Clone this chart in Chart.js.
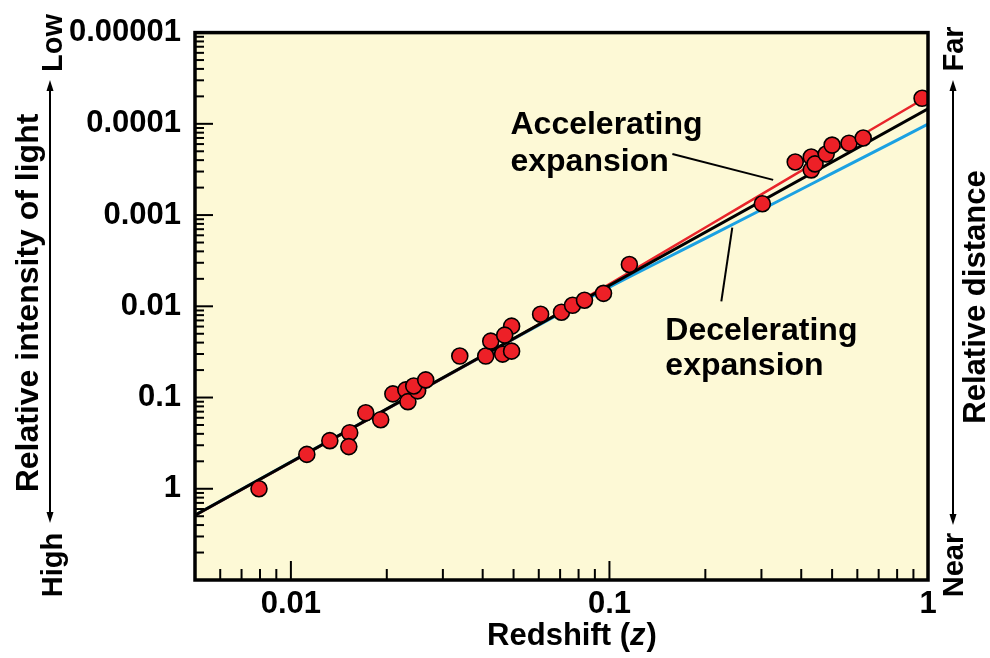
<!DOCTYPE html>
<html><head><meta charset="utf-8">
<script src="https://cdn.jsdelivr.net/npm/chart.js@4/dist/chart.umd.min.js"></script>
<style>html,body{margin:0;padding:0;background:#fff}#wrap{width:990px;height:658px;position:relative}</style>
</head><body><div id="wrap"><canvas id="c"></canvas></div>
<script>
// ---- data ----
const redshift  = [0.00794,0.01122,0.01325,0.0153,0.0152,0.01718,0.01914,0.0209,0.02295,0.0233,0.0250,0.0243,0.0265,0.0339,0.0409,0.0424,0.0462,0.0493,0.0493,0.0469,0.0608,0.0707,0.0766,0.0835,0.0958,0.1155,0.302,0.383,0.430,0.430,0.442,0.479,0.500,0.565,0.626,0.958];
const intensity = [1.0,0.42,0.297,0.243,0.345,0.147,0.175,0.0912,0.0824,0.111,0.0845,0.0747,0.0641,0.0351,0.0351,0.0241,0.0334,0.0310,0.0165,0.0207,0.01222,0.01161,0.00975,0.00859,0.00721,0.00348,0.000751,0.000262,0.000231,0.000320,0.000275,0.000214,0.000171,0.000163,0.000143,0.0000525];
const modelZ       = [0.005,0.05,0.1,0.2,0.3,0.5,1];
const accelerating = [1.954,0.02279,0.005723,0.001367,0.0005925,0.0002063,0.0000499];
const decelerating = [1.954,0.02279,0.006173,0.001803,0.000874,0.0003497,0.0001008];
const coastingZ    = [0.005,1];
const coasting     = [1.954,0.0000683];
const xTickValues = [0.01,0.1,1];
const xTickLabels = ['0.01','0.1','1'];
const yTickValues = [0.00001,0.0001,0.001,0.01,0.1,1];
const yTickLabels = ['0.00001','0.0001','0.001','0.01','0.1','1'];

// ---- annotations (anchored in data space) ----
const notes = {
  accel: {text:['Accelerating','expansion'], at:[0.0489,1.28e-4], from:[0.1576,2.143e-4], to:[0.3266,4.115e-4]},
  decel: {text:['Decelerating','expansion'], at:[0.1498,0.02319], from:[0.2245,8.815e-3], to:[0.2430,1.374e-3]}
};

const FONT = "'Liberation Sans', Arial, Helvetica, sans-serif";
const BG = 'rgb(253,249,214)';
const RED = '#ed2027', BLUE = '#1ba1e2';
Chart.defaults.font.family = FONT;
Chart.defaults.color = '#000';

const pts = (xs, ys) => xs.map((v,i)=>({x:v,y:ys[i]}));

const deco = {
  id:'deco',
  beforeDatasetsDraw(chart){
    const {ctx, chartArea:a} = chart;
    ctx.save(); ctx.fillStyle = BG;
    ctx.fillRect(a.left,a.top,a.right-a.left,a.bottom-a.top); ctx.restore();
  },
  afterDraw(chart){
    const {ctx, chartArea:a, scales:{x,y}} = chart;
    ctx.save();
    ctx.strokeStyle='#000'; ctx.fillStyle='#000'; ctx.lineWidth=2;
    // y ticks (inside, left)
    for(let n=-5;n<=0;n++){
      for(let k=2;k<=9;k++){
        const py = y.getPixelForValue(Math.pow(10,n+1)/k);
        ctx.beginPath(); ctx.moveTo(a.left,py); ctx.lineTo(a.left+9,py); ctx.stroke();
      }
    }
    yTickValues.forEach(v=>{ const py=y.getPixelForValue(v);
      ctx.beginPath(); ctx.moveTo(a.left,py); ctx.lineTo(a.left+18,py); ctx.stroke(); });
    // x ticks (inside, bottom)
    for(let n=-3;n<=-1;n++){
      for(let k=2;k<=9;k++){
        const v=k*Math.pow(10,n); if(v<=0.005||v>=1) continue;
        const px=x.getPixelForValue(v);
        ctx.beginPath(); ctx.moveTo(px,a.bottom); ctx.lineTo(px,a.bottom-11); ctx.stroke();
      }
    }
    xTickValues.forEach(v=>{ if(v>=1) return; const px=x.getPixelForValue(v);
      ctx.beginPath(); ctx.moveTo(px,a.bottom); ctx.lineTo(px,a.bottom-19); ctx.stroke(); });
    // frame
    ctx.lineWidth=3.5;
    ctx.strokeRect(a.left,a.top,a.right-a.left,a.bottom-a.top);

    // callouts
    ctx.lineWidth=2;
    [notes.accel, notes.decel].forEach(nt=>{
      ctx.beginPath();
      ctx.moveTo(x.getPixelForValue(nt.from[0]), y.getPixelForValue(nt.from[1]));
      ctx.lineTo(x.getPixelForValue(nt.to[0]), y.getPixelForValue(nt.to[1]));
      ctx.stroke();
    });
    ctx.font = "bold 32px "+FONT; ctx.textAlign='left'; ctx.textBaseline='alphabetic';
    [[notes.accel,37],[notes.decel,35]].forEach(([nt,gap])=>{
      const px=x.getPixelForValue(nt.at[0]), py=y.getPixelForValue(nt.at[1]);
      nt.text.forEach((t,i)=>ctx.fillText(t,px,py+i*gap));
    });

    // x axis title with italic z
    const cx=(a.left+a.right)/2 + 10, by=645;
    const f1="bold 31px "+FONT, f2="italic bold 31px "+FONT;
    ctx.font=f1; const w1=ctx.measureText('Redshift (').width, w3=ctx.measureText(')').width;
    ctx.font=f2; const w2=ctx.measureText('z').width;
    let sx=cx-(w1+w2+w3)/2;
    ctx.font=f1; ctx.fillText('Redshift (',sx,by);
    ctx.font=f2; ctx.fillText('z',sx+w1,by);
    ctx.font=f1; ctx.fillText(')',sx+w1+w2+1,by);

    // rotated texts
    const rot=(t,bx,cy,size)=>{
      ctx.save(); ctx.font="bold "+size+"px "+FONT; ctx.translate(bx,cy); ctx.rotate(-Math.PI/2);
      ctx.textAlign='center'; ctx.textBaseline='alphabetic'; ctx.fillText(t,0,0); ctx.restore();
    };
    rot('Relative intensity of light',38,303,32);
    rot('Low',62,43,29);
    rot('High',62,565,29);
    rot('Relative distance',985,297,31);
    rot('Far',963,49,29);
    rot('Near',963,565,29);

    // arrows
    const arrow=(ax,y1,y2)=>{
      ctx.lineWidth=2;
      ctx.beginPath(); ctx.moveTo(ax,y1+8); ctx.lineTo(ax,y2-8); ctx.stroke();
      ctx.beginPath(); ctx.moveTo(ax,y1); ctx.lineTo(ax-3.5,y1+11); ctx.lineTo(ax+3.5,y1+11); ctx.closePath(); ctx.fill();
      ctx.beginPath(); ctx.moveTo(ax,y2); ctx.lineTo(ax-3.5,y2-11); ctx.lineTo(ax+3.5,y2-11); ctx.closePath(); ctx.fill();
    };
    arrow(50,80,523);
    arrow(953,80,525);
    ctx.restore();
  }
};

new Chart(document.getElementById('c'), {
  type:'line',
  data:{datasets:[
    {label:'Observed', data:pts(redshift,intensity), showLine:false, pointRadius:8, pointHoverRadius:8,
     pointBackgroundColor:RED, pointBorderColor:'#000', pointBorderWidth:1.6, order:0},
    {label:'Model', data:pts(coastingZ,coasting), borderColor:'#000', borderWidth:3, pointRadius:0, order:1},
    {label:'Accelerating', data:pts(modelZ,accelerating), borderColor:'#e8252b', borderWidth:2.5, pointRadius:0, cubicInterpolationMode:'monotone', order:2},
    {label:'Decelerating', data:pts(modelZ,decelerating), borderColor:BLUE, borderWidth:3, pointRadius:0, cubicInterpolationMode:'monotone', order:3}
  ]},
  options:{
    responsive:true, maintainAspectRatio:false, animation:false,
    layout:{padding:{left:0,right:62,top:30,bottom:0}},
    plugins:{legend:{display:false}, tooltip:{enabled:false}},
    scales:{
      x:{type:'logarithmic', min:0.005, max:1,
         grid:{display:false, drawTicks:false}, border:{display:false},
         afterBuildTicks:s=>{s.ticks=xTickValues.map(v=>({value:v}));},
         afterFit:s=>{s.height=78;},
         ticks:{autoSkip:false, maxRotation:0, padding:6, font:{size:31,weight:'bold'},
                callback:(v,i)=>xTickLabels[i]}},
      y:{type:'logarithmic', min:0.00001, max:10, reverse:true,
         grid:{display:false, drawTicks:false}, border:{display:false},
         afterBuildTicks:s=>{s.ticks=yTickValues.map(v=>({value:v}));},
         afterFit:s=>{s.width=195;},
         ticks:{autoSkip:false, padding:14, font:{size:31,weight:'bold'},
                callback:(v,i)=>yTickLabels[i]}}
    }
  },
  plugins:[deco]
});
</script></body></html>
